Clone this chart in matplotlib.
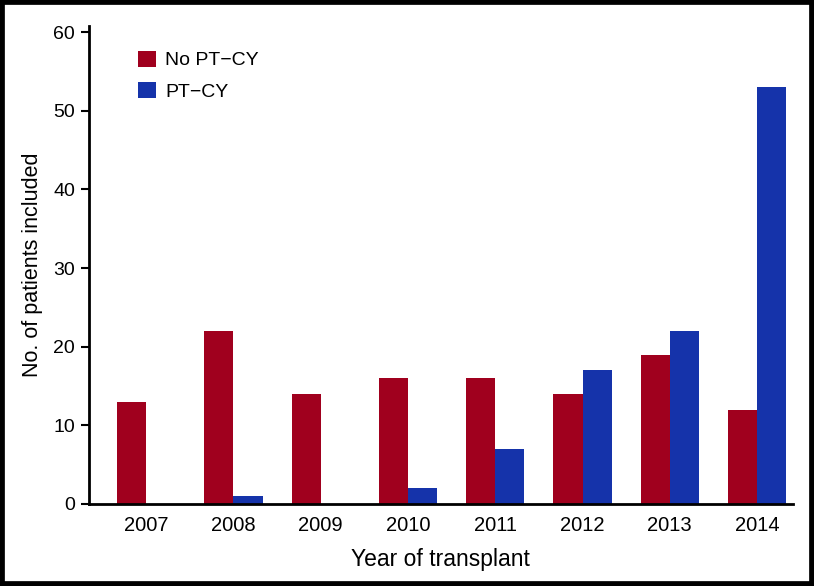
import numpy as np
import matplotlib
matplotlib.use('Agg')
import matplotlib.pyplot as plt
from matplotlib.patches import Rectangle

years = ['2007', '2008', '2009', '2010', '2011', '2012', '2013', '2014']
no_ptcy = [13, 22, 14, 16, 16, 14, 19, 12]
ptcy = [0, 1, 0, 2, 7, 17, 22, 53]

red = '#A0001E'
blue = '#1533AA'

plt.rcParams['font.family'] = ['Liberation Sans', 'DejaVu Sans']

fig = plt.figure(figsize=(8.14, 5.86), dpi=100)
ax = fig.add_axes([0.1093, 0.140, 0.8647, 0.8157])

x = np.arange(len(years))
w = 1 / 3
ax.bar(x - w / 2, no_ptcy, width=w, color=red, label='No PT\u2212CY')
ax.bar(x + w / 2, ptcy, width=w, color=blue, label='PT\u2212CY')

ax.set_xlim(-0.655, 7.41)
ax.set_ylim(0, 60.8)
ax.set_yticks([0, 10, 20, 30, 40, 50, 60])
ax.set_xticks(x)
ax.set_xticklabels(years)

for s in ['top', 'right']:
    ax.spines[s].set_visible(False)
for s in ['left', 'bottom']:
    ax.spines[s].set_linewidth(2)

ax.tick_params(axis='y', length=6, width=1.5, labelsize=14, pad=4)
ax.tick_params(axis='x', length=0, labelsize=14.5, pad=9)

ax.set_xlabel('Year of transplant', fontsize=16.5, labelpad=9)
ax.set_ylabel('No. of patients included', fontsize=15.5, labelpad=7.5)

ax.legend(loc='upper left', bbox_to_anchor=(0.045, 0.985), frameon=False,
          fontsize=14, handlelength=0.9, handleheight=0.9, handletextpad=0.5,
          labelspacing=0.65)

fig.patches.append(Rectangle((0, 0), 1, 1, transform=fig.transFigure,
                             fill=False, edgecolor='black', linewidth=7))

fig.savefig('out.png', dpi=100)
